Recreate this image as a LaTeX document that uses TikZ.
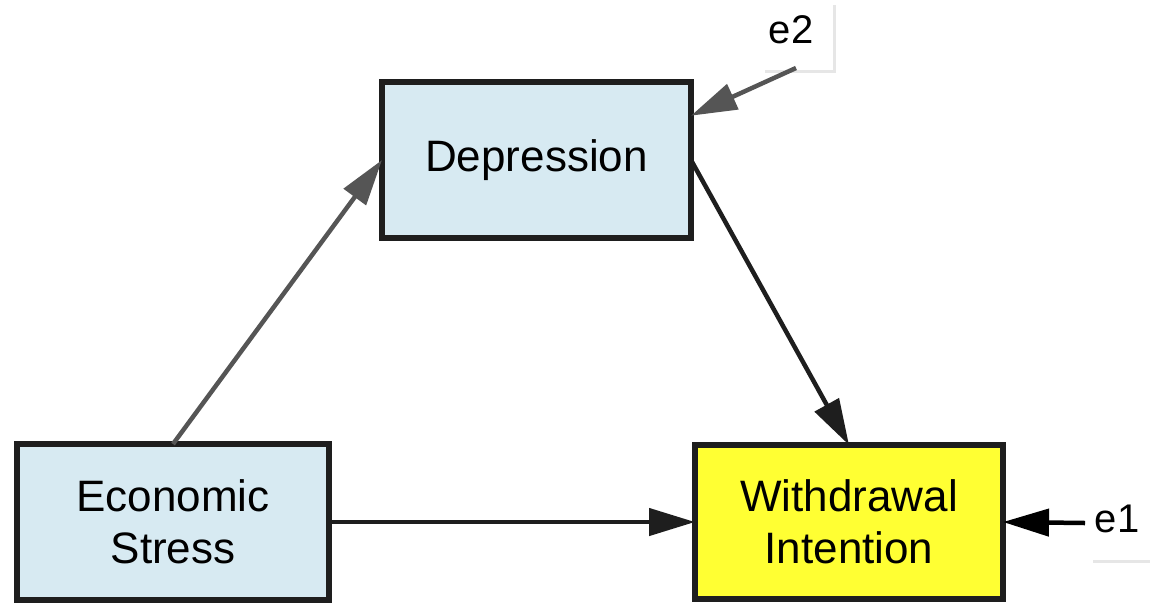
\documentclass[tikz,border=0pt]{standalone}
\usepackage{fontspec}
\setmainfont{Liberation Sans}
\usetikzlibrary{arrows.meta,calc}
\definecolor{boxblue}{HTML}{D7EAF2}
\definecolor{boxyellow}{HTML}{FFFF33}
\definecolor{edge}{HTML}{1E1E1E}
\definecolor{pathgray}{HTML}{555555}
\definecolor{shadowgray}{HTML}{E6E6E6}
\begin{document}
\begin{tikzpicture}[x=1pt,y=-1pt,
  varbox/.style={draw=edge, line width=5.5pt, rectangle, outer sep=0pt, inner sep=0pt,
    align=center, font=\fontsize{44}{52}\selectfont},
  errlabel/.style={inner sep=0pt, anchor=base, font=\fontsize{40}{48}\selectfont},
  path/.style={line width=4.5pt, -{Triangle[length=46pt,width=27pt]}},
  shadowline/.style={draw=shadowgray, line width=3pt}]
  \useasboundingbox (0,0) rectangle (1150,606);

  % variables
  \node[varbox, fill=boxblue, minimum width=309pt, minimum height=156pt] (dep) at (536.5,160) {Depression};
  \node[varbox, fill=boxblue, minimum width=312pt, minimum height=156pt] (econ) at (173,522) {Economic\\Stress};
  \node[varbox, fill=boxyellow, minimum width=308pt, minimum height=154pt] (wd) at (849,522) {Withdrawal\\Intention};

  % error terms
  \node[errlabel] (e2) at (791,43) {e2};
  \node[errlabel] (e1) at (1117,532) {e1};
  \coordinate (e2src) at (796,68);
  \coordinate (e1src) at (1085,523);
  \draw[shadowline] (834,5) -- (834,71) -- (765,71);
  \draw[shadowline] (1093,561) -- (1150,561);

  % paths
  \draw[path, draw=pathgray, fill=pathgray] (econ.north) -- (dep.west);
  \draw[path, draw=edge, fill=edge] (dep.east) -- (wd.north);
  \draw[path, draw=edge, fill=edge] (econ.east) -- (wd.west);
  \draw[path, draw=pathgray, fill=pathgray] (e2src) -- (dep.16);
  \draw[path, draw=black, fill=black] (e1src) -- (wd.east);
\end{tikzpicture}
\end{document}
